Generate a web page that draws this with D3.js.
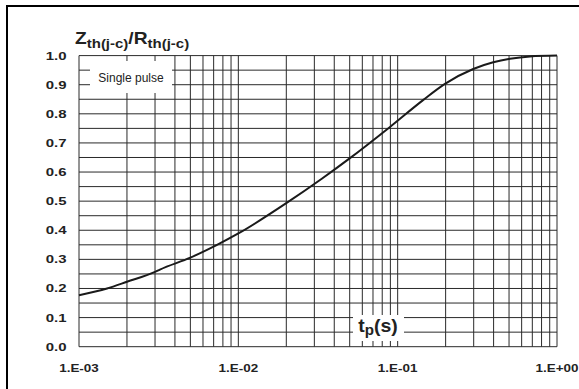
<!DOCTYPE html>
<html><head><meta charset="utf-8">
<script src="https://cdn.jsdelivr.net/npm/d3@7"></script>
<style>body{margin:0;background:#fff;} svg{display:block;}</style>
</head><body>
<script>
// Data
const tp = [0.001, 0.0015, 0.002, 0.003, 0.00322, 0.005, 0.0073, 0.01, 0.0201, 0.0334, 0.0497, 0.0895, 0.145, 0.198, 0.298, 0.398, 0.507, 0.677, 1.0];
const zth = [0.177, 0.200, 0.223, 0.257, 0.265, 0.306, 0.349, 0.389, 0.494, 0.577, 0.646, 0.755, 0.848, 0.903, 0.954, 0.977, 0.989, 0.997, 1.0];
const yTicks = [0,0.1,0.2,0.3,0.4,0.5,0.6,0.7,0.8,0.9,1.0];
const xTicks = [0.001, 0.01, 0.1, 1];
const xTickLabels = ["1.E-03","1.E-02","1.E-01","1.E+00"];

const W = 579, H = 389;
const svg = d3.select("body").append("svg").attr("width", W).attr("height", H);
const font = "'Liberation Sans', Arial, Helvetica, sans-serif";

// outer frame
svg.append("rect").attr("x",7).attr("y",6).attr("width",700).attr("height",500)
  .attr("fill","none").attr("stroke","#000").attr("stroke-width",2);

const L = 79, R = 557, T = 55.6, B = 346.7;
const x = d3.scaleLog().domain([0.001, 1]).range([L, R]);
const y = d3.scaleLinear().domain([0, 1]).range([B, T]);

// grid
const vlines = [];
[0.001, 0.01, 0.1].forEach(d => { for (let k = 1; k <= 9; k++) vlines.push(d * k); });
vlines.push(1);
const hlines = d3.range(0, 21).map(i => i * 0.05);

const grid = svg.append("g").attr("stroke", "#2a2a2a").attr("stroke-width", 1);
grid.selectAll("line.v").data(vlines).join("line").attr("class","v")
  .attr("x1", d => x(d)).attr("x2", d => x(d)).attr("y1", T).attr("y2", B);
grid.selectAll("line.h").data(hlines).join("line").attr("class","h")
  .attr("x1", L).attr("x2", R).attr("y1", d => y(d)).attr("y2", d => y(d));

// axis labels
function stretchText(g, tx, ty, sx, txt, size, weight, anchor) {
  return g.append("text").attr("transform", `translate(${tx},${ty}) scale(${sx},1)`)
    .attr("font-family", font).attr("font-size", size).attr("font-weight", weight)
    .attr("text-anchor", anchor).attr("fill", "#222").text(txt);
}
const labs = svg.append("g");
yTicks.forEach(v => {
  stretchText(labs, 66.5, y(v) + 4, 1.3, d3.format(".1f")(v), 11.5, "bold", "end");
});
xTicks.forEach((v, i) => {
  stretchText(labs, x(v), 371.5, 1.17, xTickLabels[i], 11.5, "bold", "middle");
});

// curve
const line = d3.line().x((d, i) => x(tp[i])).y((d, i) => y(zth[i])).curve(d3.curveMonotoneX);
svg.append("path").datum(zth).attr("d", line).attr("fill", "none")
  .attr("stroke", "#1a1a1a").attr("stroke-width", 2);

// Single pulse box
svg.append("rect").attr("x", 90).attr("y", 61).attr("width", 82).attr("height", 32).attr("fill", "#fff");
svg.append("text").attr("x", 131).attr("y", 81.5).attr("font-family", font).attr("font-size", 12)
  .attr("text-anchor", "middle").attr("fill", "#222").text("Single pulse");

// tp(s) box
svg.append("rect").attr("x", 353).attr("y", 315).attr("width", 51).attr("height", 26).attr("fill", "#fff");
const tpT = svg.append("text").attr("transform", "translate(378,332) scale(1.08,1)")
  .attr("font-family", font).attr("font-weight", "bold").attr("fill", "#222").attr("text-anchor", "middle");
tpT.append("tspan").attr("font-size", 18).text("t");
tpT.append("tspan").attr("font-size", 14).attr("dy", 3).text("p");
tpT.append("tspan").attr("font-size", 18).attr("dy", -3).text("(s)");

// title
const tt = svg.append("text").attr("transform", "translate(75,43.5) scale(1.2,1)")
  .attr("font-family", font).attr("font-weight", "bold").attr("fill", "#222");
tt.append("tspan").attr("font-size", 16).text("Z");
tt.append("tspan").attr("font-size", 12.5).attr("dy", 4).text("th(j-c)");
tt.append("tspan").attr("font-size", 16).attr("dy", -4).text("/R");
tt.append("tspan").attr("font-size", 12.5).attr("dy", 4).text("th(j-c)");
</script>
</body></html>
